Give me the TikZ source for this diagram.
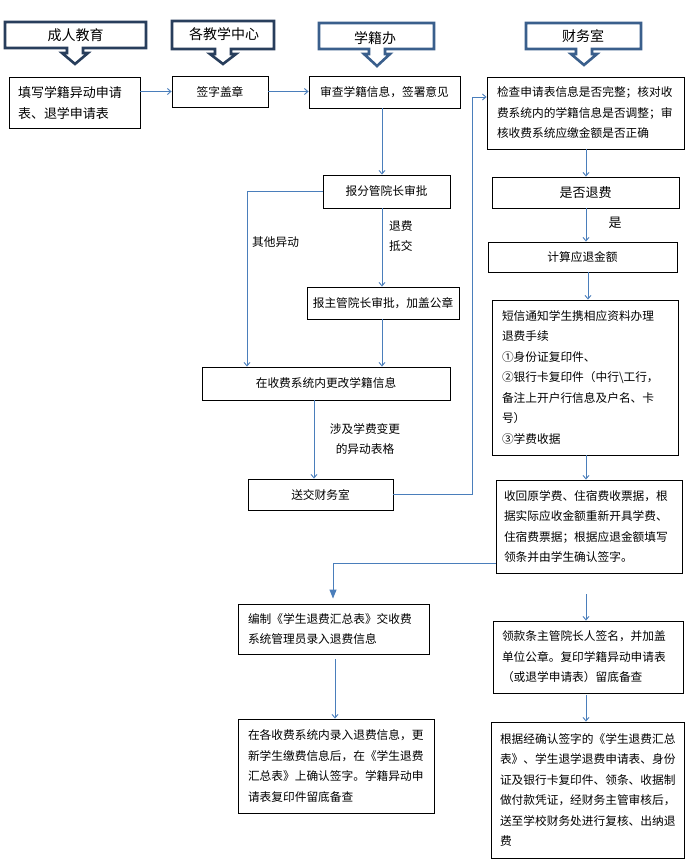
\documentclass[tikz,border=0pt]{standalone}
\usepackage{fontspec}
\setmainfont{Noto Sans CJK SC}
\usetikzlibrary{arrows.meta}
\definecolor{hdrdark}{RGB}{40,62,92}
\definecolor{hdrblue}{RGB}{58,95,140}
\definecolor{conn}{RGB}{74,126,187}
\newcommand\hdrshape[7]{% x1,x2,y1,y2,cx,tip,color
  \draw[hdr,draw=#7] (#1,#3) -- (#2,#3) -- (#2,#4) -- ({#5+8},#4) -- ({#5+8},{#4+5}) -- ({#5+13},{#4+5}) -- (#5,#6) -- ({#5-13},{#4+5}) -- ({#5-8},{#4+5}) -- ({#5-8},#4) -- (#1,#4) -- cycle;}
\begin{document}
\begin{tikzpicture}[x=1pt,y=-1pt,
 box/.style={draw=black, line width=0.9pt, fill=white, inner sep=0pt, font=\fontsize{11.7}{20.5}\selectfont},
 cbox/.style={box, align=center},
 lbox/.style={box, align=left},
 arr/.style={draw=conn, line width=0.9pt, -{Straight Barb[length=3.5pt,width=6pt]}},
 farr/.style={draw=conn, line width=1pt, -{Triangle[length=9pt,width=7pt]}},
 lbl/.style={font=\fontsize{11.7}{20.5}\selectfont, align=left, inner sep=0pt},
 hdr/.style={line width=2.6pt, line join=miter, fill=white},
 htxt/.style={font=\fontsize{14}{16}\selectfont, inner sep=0pt}
]
\useasboundingbox[fill=white] (0,0) rectangle (694,868);

% headers
\hdrshape{5}{146}{22}{48}{75}{64}{hdrdark}
\node[htxt] (h1) at (75.5,35) {成人教育};
\hdrshape{172}{274}{21}{49}{223}{64}{hdrdark}
\node[htxt] (h2) at (224,34) {各教学中心};
\hdrshape{319}{434}{23}{49}{377}{66}{hdrblue}
\node[htxt] (h3) at (375,38) {学籍办};
\hdrshape{526}{641}{23}{49}{584}{65}{hdrblue}
\node[htxt] (h4) at (583,36) {财务室};

% boxes
\node[lbox, minimum width=131pt, minimum height=51pt, text width=113pt, font=\fontsize{13}{21}\selectfont] (A) at (74.5,102.5) {填写学籍异动申请\\表、退学申请表};
\node[cbox, minimum width=96pt, minimum height=31pt] (B) at (220,91.5) {签字盖章};
\node[cbox, minimum width=151pt, minimum height=32pt] (C) at (384.5,92) {审查学籍信息，签署意见};
\node[lbox, minimum width=197pt, minimum height=72pt, text width=177pt] (D) at (585.5,113) {检查申请表信息是否完整；核对收\\费系统内的学籍信息是否调整；审\\核收费系统应缴金额是否正确};
\node[cbox, minimum width=127pt, minimum height=33pt] (E) at (386.5,191.5) {报分管院长审批};
\node[cbox, minimum width=152pt, minimum height=32pt] (F) at (383,303) {报主管院长审批，加盖公章};
\node[cbox, minimum width=248pt, minimum height=33pt] (G) at (326,383.5) {在收费系统内更改学籍信息};
\node[cbox, minimum width=145pt, minimum height=31pt] (H) at (320.5,494.5) {送交财务室};
\node[cbox, minimum width=187pt, minimum height=31pt, font=\fontsize{13}{16}\selectfont] (Q) at (585.5,192.5) {是否退费};
\node[cbox, minimum width=189pt, minimum height=30pt] (R) at (582.5,257) {计算应退金额};
\node[lbox, minimum width=186pt, minimum height=155pt, text width=166pt] (I) at (585,377.5) {短信通知学生携相应资料办理\\退费手续\\①身份证复印件、\\②银行卡复印件（中行\textbackslash 工行，\\备注上开户行信息及户名、卡\\号）\\③学费收据};
\node[lbox, minimum width=186pt, minimum height=93pt, text width=170pt] (J) at (589,526.5) {收回原学费、住宿费收票据，根\\据实际应收金额重新开具学费、\\住宿费票据；根据应退金额填写\\领条并由学生确认签字。};
\node[lbox, minimum width=191pt, minimum height=50pt, text width=171pt] (K) at (333.5,629) {编制《学生退费汇总表》交收费\\系统管理员录入退费信息};
\node[lbox, minimum width=196pt, minimum height=94pt, text width=176pt] (L) at (336,766) {在各收费系统内录入退费信息，更\\新学生缴费信息后，在《学生退费\\汇总表》上确认签字。学籍异动申\\请表复印件留底备查};
\node[lbox, minimum width=190pt, minimum height=72pt, text width=172pt] (M) at (588,657) {领款条主管院长人签名，并加盖\\单位公章。复印学籍异动申请表\\（或退学申请表）留底备查};
\node[lbox, minimum width=193pt, minimum height=136pt, text width=175pt] (N) at (587.5,790) {根据经确认签字的《学生退费汇总\\表》、学生退学退费申请表、身份\\证及银行卡复印件、领条、收据制\\做付款凭证，经财务主管审核后，\\送至学校财务处进行复核、出纳退\\费};

% helper coordinates
\coordinate (xC) at (382,0);
\coordinate (xL) at (247,0);
\coordinate (xG) at (314,0);
\coordinate (xR) at (472,0);
\coordinate (yD) at (0,97);
\coordinate (xF) at (586,0);
\coordinate (xI) at (588,0);
\coordinate (yJ) at (0,563);
\coordinate (xK) at (333,0);
\coordinate (xKL) at (335,0);
\coordinate (m0) at (586,594);

% connectors
\draw[arr] (A.east |- B.west) -- (B.west);
\draw[arr] (B.east) -- (C.west |- B.east);
\draw[arr] (xC |- C.south) -- (xC |- E.north);
\draw[arr] (E.west) -| (xL |- G.north);
\draw[arr] (xC |- E.south) -- (xC |- F.north);
\draw[arr] (xC |- F.south) -- (xC |- G.north);
\draw[arr] (xG |- G.south) -- (xG |- H.north);
\draw[arr] (H.east) -| (xR |- yD) -- (D.west |- yD);
\draw[arr] (xF |- D.south) -- (xF |- Q.north);
\draw[arr] (xF |- Q.south) -- (xF |- R.north);
\draw[arr] (xI |- R.south) -- (xI |- I.north);
\draw[arr] (xF |- I.south) -- (xF |- J.north);
\draw[farr, shorten >=5pt] (J.west |- yJ) -| (xK |- K.north);
\draw[arr, shorten <=5pt] (xKL |- K.south) -- (xKL |- L.north);
\draw[arr] (m0) -- (m0 |- M.north);
\draw[arr, shorten <=2pt] (xF |- M.south) -- (xF |- N.north);

% labels
\node[lbl, anchor=west] (l1) at (389,236) {退费\\抵交};
\node[lbl, anchor=west] (l2) at (252,242) {其他异动};
\node[lbl, align=center] (l3) at (365,439) {涉及学费变更\\的异动表格};
\node[lbl, font=\fontsize{13}{16}\selectfont] (l4) at (615,223) {是};
\end{tikzpicture}
\end{document}
